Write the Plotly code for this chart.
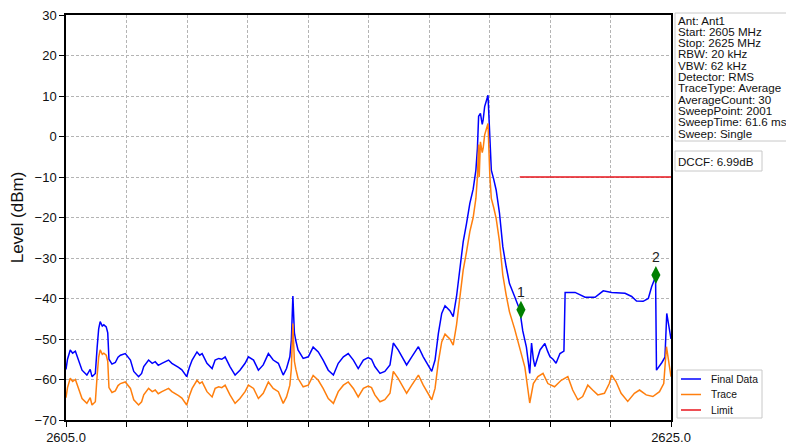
import plotly.graph_objects as go

# ---------------- data ----------------
freq_final = [2605.00, 2605.05, 2605.14, 2605.22, 2605.31, 2605.42, 2605.53, 2605.69, 2605.80, 2605.86,
              2605.97, 2606.03, 2606.08, 2606.13, 2606.20, 2606.25, 2606.33, 2606.38, 2606.42, 2606.52,
              2606.63, 2606.72, 2606.80, 2606.96, 2607.05, 2607.13, 2607.24, 2607.40, 2607.50, 2607.57,
              2607.73, 2607.85, 2607.95, 2608.05, 2608.17, 2608.30, 2608.39, 2608.50, 2608.61, 2608.72,
              2608.83, 2608.99, 2609.08, 2609.17, 2609.33, 2609.42, 2609.50, 2609.66, 2609.83, 2609.93,
              2610.05, 2610.15, 2610.26, 2610.42, 2610.59, 2610.75, 2610.92, 2611.03, 2611.20, 2611.36,
              2611.52, 2611.69, 2611.85, 2612.02, 2612.18, 2612.29, 2612.40, 2612.45, 2612.50, 2612.55,
              2612.60, 2612.67, 2612.84, 2613.01, 2613.17, 2613.34, 2613.50, 2613.67, 2613.84, 2614.00,
              2614.17, 2614.33, 2614.50, 2614.66, 2614.83, 2614.99, 2615.10, 2615.21, 2615.38, 2615.54,
              2615.71, 2615.82, 2615.98, 2616.15, 2616.26, 2616.43, 2616.65, 2616.81, 2616.98, 2617.09,
              2617.20, 2617.31, 2617.42, 2617.53, 2617.69, 2617.80, 2617.91, 2618.02, 2618.13, 2618.24,
              2618.35, 2618.46, 2618.55, 2618.60, 2618.64, 2618.70, 2618.76, 2618.79, 2618.84, 2618.95,
              2619.01, 2619.06, 2619.14, 2619.22, 2619.33, 2619.44, 2619.55, 2619.66, 2619.83, 2620.00,
              2620.10, 2620.22, 2620.33, 2620.39, 2620.45, 2620.50, 2620.67, 2620.83, 2620.92, 2621.00,
              2621.10, 2621.20, 2621.33, 2621.46, 2621.50, 2621.83, 2622.16, 2622.49, 2622.76, 2623.04,
              2623.48, 2623.70, 2623.86, 2624.08, 2624.25, 2624.36, 2624.49, 2624.52, 2624.70, 2624.80,
              2624.86, 2624.93, 2625.00]
level_final = [-57.5, -55.0, -52.7, -53.5, -53.0, -55.2, -57.7, -58.9, -57.5, -59.3,
               -58.5, -52.0, -47.5, -45.7, -46.8, -46.5, -47.0, -48.5, -55.0, -56.2,
               -55.8, -54.5, -54.0, -53.6, -54.5, -55.2, -58.0, -59.3, -58.5, -56.8,
               -55.2, -56.0, -55.6, -56.5, -56.0, -55.5, -55.2, -56.0, -56.4, -57.0,
               -57.6, -59.3, -57.0, -55.2, -53.2, -54.0, -53.6, -56.0, -57.3, -55.2,
               -54.8, -55.0, -54.4, -56.8, -58.9, -57.7, -56.0, -54.4, -55.2, -57.7,
               -56.4, -53.6, -55.2, -56.0, -58.9, -57.3, -54.4, -50.3, -39.4, -48.5,
               -50.5, -52.7, -54.8, -54.4, -52.0, -53.2, -55.2, -57.7, -58.9, -56.0,
               -54.4, -53.6, -55.2, -57.3, -55.2, -54.6, -55.0, -56.8, -58.5, -58.0,
               -56.4, -51.0, -52.7, -54.8, -56.4, -54.4, -51.9, -54.4, -56.4, -58.0,
               -55.2, -48.6, -43.7, -41.8, -43.0, -44.5, -39.5, -33.0, -26.0, -21.5,
               -16.5, -13.0, -8.3, -3.0, 5.0, 5.7, 3.0, 4.1, 7.4, 10.2,
               -2.5, -8.3, -10.6, -13.2, -18.9, -27.2, -32.1, -36.3, -39.5, -42.8,
               -48.0, -52.0, -58.5, -51.0, -55.0, -56.8, -52.7, -51.1, -53.0, -54.4,
               -55.0, -56.0, -53.6, -53.0, -38.5, -38.5, -39.7, -39.7, -38.1, -38.5,
               -38.7, -39.5, -40.6, -40.7, -40.0, -37.1, -34.6, -57.7, -55.8, -54.5,
               -43.7, -46.8, -50.0]

freq_trace = [2605.00, 2605.05, 2605.14, 2605.22, 2605.31, 2605.42, 2605.53, 2605.69, 2605.80, 2605.86,
              2605.97, 2606.03, 2606.08, 2606.13, 2606.20, 2606.25, 2606.33, 2606.38, 2606.42, 2606.52,
              2606.63, 2606.72, 2606.80, 2606.96, 2607.05, 2607.13, 2607.24, 2607.40, 2607.50, 2607.57,
              2607.73, 2607.85, 2607.95, 2608.05, 2608.17, 2608.30, 2608.39, 2608.50, 2608.61, 2608.72,
              2608.83, 2608.99, 2609.08, 2609.17, 2609.33, 2609.42, 2609.50, 2609.66, 2609.83, 2609.93,
              2610.05, 2610.15, 2610.26, 2610.42, 2610.59, 2610.75, 2610.92, 2611.03, 2611.20, 2611.36,
              2611.52, 2611.69, 2611.85, 2612.02, 2612.18, 2612.29, 2612.40, 2612.45, 2612.50, 2612.55,
              2612.60, 2612.67, 2612.84, 2613.01, 2613.17, 2613.34, 2613.50, 2613.67, 2613.84, 2614.00,
              2614.17, 2614.33, 2614.50, 2614.66, 2614.83, 2614.99, 2615.10, 2615.21, 2615.38, 2615.54,
              2615.71, 2615.82, 2615.98, 2616.15, 2616.26, 2616.43, 2616.65, 2616.81, 2616.98, 2617.09,
              2617.20, 2617.31, 2617.42, 2617.53, 2617.69, 2617.80, 2617.91, 2618.02, 2618.13, 2618.24,
              2618.35, 2618.46, 2618.55, 2618.60, 2618.64, 2618.66, 2618.70, 2618.76, 2618.79, 2618.84,
              2618.95, 2619.01, 2619.06, 2619.14, 2619.22, 2619.33, 2619.44, 2619.55, 2619.66, 2619.83,
              2620.00, 2620.17, 2620.33, 2620.45, 2620.60, 2620.77, 2620.93, 2621.15, 2621.37, 2621.59,
              2621.75, 2621.92, 2622.08, 2622.25, 2622.41, 2622.58, 2622.80, 2622.96, 2623.04, 2623.18,
              2623.35, 2623.57, 2623.79, 2623.96, 2624.18, 2624.40, 2624.62, 2624.76, 2624.85, 2624.94,
              2625.00]
level_trace = [-64.5, -62.0, -59.7, -60.5, -60.0, -62.2, -64.7, -65.9, -64.5, -66.3,
               -65.5, -59.0, -54.5, -52.7, -53.8, -53.5, -54.0, -55.5, -62.0, -63.2,
               -62.8, -61.5, -61.0, -60.6, -61.5, -62.2, -65.0, -66.3, -65.5, -63.8,
               -62.2, -63.0, -62.6, -63.5, -63.0, -62.5, -62.2, -63.0, -63.4, -64.0,
               -64.6, -66.3, -64.0, -62.2, -60.2, -61.0, -60.6, -63.0, -64.3, -62.2,
               -61.8, -62.0, -61.4, -63.8, -65.9, -64.7, -63.0, -61.4, -62.2, -64.7,
               -63.4, -60.6, -62.2, -63.0, -65.9, -64.3, -61.4, -57.3, -46.2, -55.5,
               -57.5, -59.7, -61.8, -61.4, -59.0, -60.2, -62.2, -64.7, -65.9, -63.0,
               -61.4, -60.6, -62.2, -64.3, -62.2, -61.6, -62.0, -63.8, -65.5, -65.0,
               -63.4, -58.0, -59.7, -61.8, -63.4, -61.4, -58.9, -61.4, -63.4, -65.0,
               -62.2, -55.6, -50.7, -48.8, -50.0, -51.5, -46.5, -40.0, -33.0, -28.5,
               -23.5, -20.0, -15.3, -10.0, -2.0, -10.0, -1.3, -4.0, -2.9, 0.4,
               3.2, -9.5, -15.3, -17.6, -20.2, -25.9, -34.2, -39.1, -43.3, -47.5,
               -52.0, -57.0, -65.8, -61.0, -59.3, -58.5, -61.0, -61.8, -60.2, -59.3,
               -62.6, -65.0, -64.2, -61.4, -62.6, -63.8, -63.4, -61.0, -58.9, -60.5,
               -63.4, -65.4, -63.4, -62.6, -63.8, -64.2, -63.0, -61.0, -51.9, -56.8,
               -59.3]

limit_freq = [2620.0, 2625.0]
limit_level = [-10.0, -10.0]

marker_freq = [2620.04, 2624.50]
marker_level = [-42.8, -34.2]
marker_names = ["1", "2"]

series_names = ["Final Data", "Trace", "Limit"]
series_colors = ["#0000ff", "#ff7f0e", "#e8141c"]

info_lines = ["Ant: Ant1", "Start: 2605 MHz", "Stop: 2625 MHz", "RBW: 20 kHz", "VBW: 62 kHz",
              "Detector: RMS", "TraceType: Average", "AverageCount: 30", "SweepPoint: 2001",
              "SweepTime: 61.6 ms", "Sweep: Single"]
dccf_text = "DCCF: 6.99dB"

x_range = [2605.0, 2625.0]
y_range = [-70, 30]
x_tickvals = [2605, 2607, 2609, 2611, 2613, 2615, 2617, 2619, 2621, 2623, 2625]
x_ticktext = ["2605.0", "", "", "", "", "", "", "", "", "", "2625.0"]
y_tickvals = [-70, -60, -50, -40, -30, -20, -10, 0, 10, 20, 30]

# ---------------- figure ----------------
# page pixels of the plot area (the page body adds an 8px offset)
OFF = 8
W, H = 794 - OFF, 444 - OFF
PL, PR, PT, PB = 66, 671, 15, 420
PW, PH = PR - PL, PB - PT
L, T = PL - OFF, PT - OFF
R, B = W - L - PW, H - T - PH


def px(xp):
    return (xp - PL) / PW


def py(yp):
    return (PB - yp) / PH


FONT = "Liberation Sans, Arial, sans-serif"

fig = go.Figure()
fig.add_trace(go.Scatter(x=freq_final, y=level_final, mode="lines", name=series_names[0],
                         line=dict(color=series_colors[0], width=1.5)))
fig.add_trace(go.Scatter(x=freq_trace, y=level_trace, mode="lines", name=series_names[1],
                         line=dict(color=series_colors[1], width=1.5)))
fig.add_trace(go.Scatter(x=limit_freq, y=limit_level, mode="lines", name=series_names[2],
                         line=dict(color=series_colors[2], width=1.3)))
fig.add_trace(go.Scatter(x=marker_freq, y=marker_level, mode="markers+text", showlegend=False,
                         text=marker_names, textposition="top center",
                         textfont=dict(size=14, color="#222222", family=FONT),
                         marker=dict(symbol="diamond-tall", size=13, color="#008000",
                                     line=dict(width=0))))

annotations = []
shapes = []
BOX = dict(color="#c8c8c8", width=1)
# info box
shapes.append(dict(type="rect", xref="paper", yref="paper",
                   x0=px(675), x1=px(800), y0=py(141), y1=py(13),
                   line=BOX, fillcolor="white", layer="above"))
for i, t in enumerate(info_lines):
    annotations.append(dict(xref="paper", yref="paper", x=px(676), y=py(20 + i * 11.3),
                            xanchor="left", yanchor="middle", text=t, showarrow=False,
                            font=dict(size=11.6, color="#111111", family=FONT)))
# DCCF box
shapes.append(dict(type="rect", xref="paper", yref="paper",
                   x0=px(675), x1=px(762), y0=py(171), y1=py(151),
                   line=BOX, fillcolor="white", layer="above"))
annotations.append(dict(xref="paper", yref="paper", x=px(676), y=py(161),
                        xanchor="left", yanchor="middle", text=dccf_text, showarrow=False,
                        font=dict(size=11.6, color="#111111", family=FONT)))
# legend box (drawn by hand for matplotlib-like compact spacing)
shapes.append(dict(type="rect", xref="paper", yref="paper",
                   x0=px(677), x1=px(762), y0=py(418), y1=py(370),
                   line=BOX, fillcolor="white", layer="above"))
for i, (nm, col) in enumerate(zip(series_names, series_colors)):
    yy = 379 + i * 15.5
    shapes.append(dict(type="line", xref="paper", yref="paper",
                       x0=px(681), x1=px(701), y0=py(yy), y1=py(yy),
                       line=dict(color=col, width=1.5), layer="above"))
    annotations.append(dict(xref="paper", yref="paper", x=px(709), y=py(yy),
                            xanchor="left", yanchor="middle", text=nm, showarrow=False,
                            font=dict(size=10.3, color="#111111", family=FONT)))

fig.update_layout(
    width=W, height=H,
    margin=dict(l=L, r=R, t=T, b=B, autoexpand=False),
    paper_bgcolor="white", plot_bgcolor="white",
    font=dict(family=FONT, size=13, color="#111111"),
    showlegend=False,
    annotations=annotations,
    shapes=shapes,
    xaxis=dict(range=x_range, tickvals=x_tickvals, ticktext=x_ticktext, automargin=False,
               showgrid=True, gridcolor="#b4b4b4", griddash="3px,2px", gridwidth=0.8,
               showline=True, linecolor="black", linewidth=1.5, mirror=True,
               ticks="outside", ticklen=5, tickcolor="black", zeroline=False,
               ticklabeloverflow="allow", tickfont=dict(size=13)),
    yaxis=dict(range=y_range, tickvals=y_tickvals, automargin=False,
               showgrid=True, gridcolor="#b4b4b4", griddash="3px,2px", gridwidth=0.8,
               showline=True, linecolor="black", linewidth=1.5, mirror=True,
               ticks="outside", ticklen=5, tickcolor="black", zeroline=False,
               ticklabeloverflow="allow", tickfont=dict(size=13),
               title=dict(text="Level (dBm)", font=dict(size=17), standoff=8)),
)

fig.write_html("out.html")
